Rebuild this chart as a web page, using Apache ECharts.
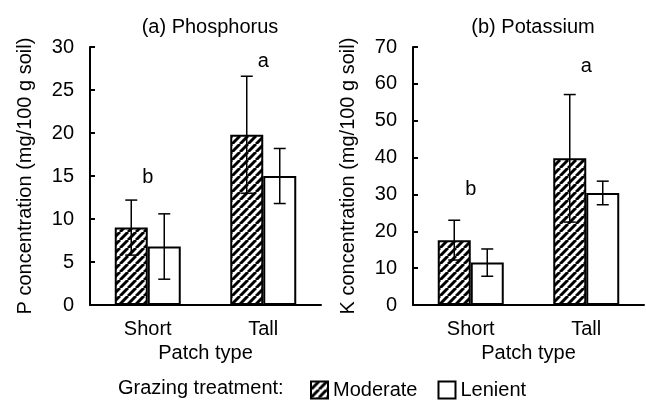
<!DOCTYPE html>
<html>
<head>
<meta charset="utf-8">
<script src="https://cdn.jsdelivr.net/npm/echarts@6/dist/echarts.min.js"></script>
<style>
  html, body { margin: 0; padding: 0; background: #fff; }
  #chart { width: 646px; height: 406px; }
</style>
</head>
<body>
<div id="chart"></div>
<script>
const categories = ['Short', 'Tall'];

// (a) phosphorus, mg/100 g soil
const pModerate = [9.0, 19.8];
const pModerateErr = [3.2, 6.8];
const pLenient = [6.8, 15.0];
const pLenientErr = [3.8, 3.2];
const pLetters = ['b', 'a'];
const pLetterY = [14.8, 28.3];

// (b) potassium, mg/100 g soil
const kModerate = [17.6, 39.8];
const kModerateErr = [5.4, 17.3];
const kLenient = [11.5, 30.4];
const kLenientErr = [3.7, 3.2];
const kLetters = ['b', 'a'];
const kLetterY = [31.3, 64.7];

const FONT = '"Liberation Sans", Arial, sans-serif';
const BAR_W = 33;
const CAP = 6;

function hatch() {
    const c = document.createElement('canvas');
    c.width = 8; c.height = 8;
    const g = c.getContext('2d');
    g.fillStyle = '#fff';
    g.fillRect(0, 0, 8, 8);
    g.strokeStyle = '#000';
    g.lineWidth = 3;
    [-8, 0, 8].forEach(x0 => {
        g.beginPath();
        g.moveTo(x0, 8);
        g.lineTo(x0 + 8, 0);
        g.stroke();
    });
    return c;
}
const hatchFill = { image: hatch(), repeat: 'repeat' };

function errData(mod, modErr, len, lenErr) {
    const out = [];
    mod.forEach((v, i) => out.push([i, v, modErr[i], -1]));
    len.forEach((v, i) => out.push([i, v, lenErr[i], 1]));
    return out;
}

function renderErr(params, api) {
    const cat = api.value(0), v = api.value(1), e = api.value(2), side = api.value(3);
    const top = api.coord([cat, v + e]);
    const bot = api.coord([cat, v - e]);
    const x = top[0] + side * BAR_W / 2;
    const style = { stroke: '#000', lineWidth: 1.5 };
    return {
        type: 'group',
        children: [
            { type: 'line', shape: { x1: x, y1: top[1], x2: x, y2: bot[1] }, style },
            { type: 'line', shape: { x1: x - CAP, y1: top[1], x2: x + CAP, y2: top[1] }, style },
            { type: 'line', shape: { x1: x - CAP, y1: bot[1], x2: x + CAP, y2: bot[1] }, style }
        ]
    };
}

// letters for each custom series, keyed by series index
const letterMap = {};

function renderLetter(params, api) {
    const p = api.coord([api.value(0), api.value(1)]);
    return {
        type: 'text',
        x: p[0], y: p[1],
        style: {
            text: letterMap[params.seriesIndex][params.dataIndex],
            font: '20px ' + FONT, fill: '#000', align: 'center', verticalAlign: 'middle'
        }
    };
}

function xAxis(idx) {
    return {
        type: 'category', gridIndex: idx, data: categories,
        axisLine: { lineStyle: { color: '#000', width: 2 } },
        axisTick: { inside: true, length: 5, lineStyle: { color: '#000', width: 2 } },
        axisLabel: { color: '#000', fontSize: 20, fontFamily: FONT, margin: 14 },
        name: 'Patch type', nameLocation: 'middle', nameGap: 37,
        nameTextStyle: { color: '#000', fontSize: 20, fontFamily: FONT }
    };
}

function yAxis(idx, max, step, title) {
    return {
        type: 'value', gridIndex: idx, min: 0, max: max, interval: step,
        splitLine: { show: false },
        axisLine: { show: true, lineStyle: { color: '#000', width: 2 } },
        axisTick: { show: true, inside: true, length: 5, lineStyle: { color: '#000', width: 2 } },
        axisLabel: { color: '#000', fontSize: 20, fontFamily: FONT, margin: 16 },
        name: title, nameLocation: 'middle', nameGap: 55, nameRotate: 90,
        nameTextStyle: { color: '#000', fontSize: 20, fontFamily: FONT }
    };
}

const barStyle = (fill) => ({ color: fill, borderColor: '#000', borderWidth: 2 });

const series = [];
function panel(idx, mod, modErr, len, lenErr, letters, letterY) {
    series.push({
        name: 'Moderate', type: 'bar', xAxisIndex: idx, yAxisIndex: idx,
        data: mod, barWidth: BAR_W, barGap: '0%', itemStyle: barStyle(hatchFill)
    });
    series.push({
        name: 'Lenient', type: 'bar', xAxisIndex: idx, yAxisIndex: idx,
        data: len, barWidth: BAR_W, barGap: '0%', itemStyle: barStyle('#fff')
    });
    series.push({
        type: 'custom', xAxisIndex: idx, yAxisIndex: idx, z: 5,
        data: errData(mod, modErr, len, lenErr), renderItem: renderErr
    });
    letterMap[series.length] = letters;
    series.push({
        type: 'custom', xAxisIndex: idx, yAxisIndex: idx, z: 5,
        data: letterY.map((y, i) => [i, y]), renderItem: renderLetter
    });
}
panel(0, pModerate, pModerateErr, pLenient, pLenientErr, pLetters, pLetterY);
panel(1, kModerate, kModerateErr, kLenient, kLenientErr, kLetters, kLetterY);

const chart = echarts.init(document.getElementById('chart'));
chart.setOption({
    animation: false,
    backgroundColor: '#fff',
    title: [
        { text: '(a) Phosphorus', left: 205, top: 12, textAlign: 'center',
          textStyle: { color: '#000', fontSize: 20, fontWeight: 'normal', fontFamily: FONT } },
        { text: '(b) Potassium', left: 528, top: 12, textAlign: 'center',
          textStyle: { color: '#000', fontSize: 20, fontWeight: 'normal', fontFamily: FONT } }
    ],
    grid: [
        { left: 90, top: 47, width: 231, height: 258 },
        { left: 413, top: 47, width: 231, height: 258 }
    ],
    xAxis: [xAxis(0), xAxis(1)],
    yAxis: [
        yAxis(0, 30, 5, 'P concentration (mg/100 g soil)'),
        yAxis(1, 70, 10, 'K concentration (mg/100 g soil)')
    ],
    legend: {
        data: ['Moderate', 'Lenient'], left: 305, top: 375, icon: 'rect',
        itemWidth: 17, itemHeight: 17, itemGap: 20,
        textStyle: { color: '#000', fontSize: 20, fontFamily: FONT }
    },
    graphic: [{
        type: 'text', left: 118, top: 378,
        style: { text: 'Grazing treatment:', font: '20px ' + FONT, fill: '#000' }
    }],
    series: series
});
</script>
</body>
</html>
